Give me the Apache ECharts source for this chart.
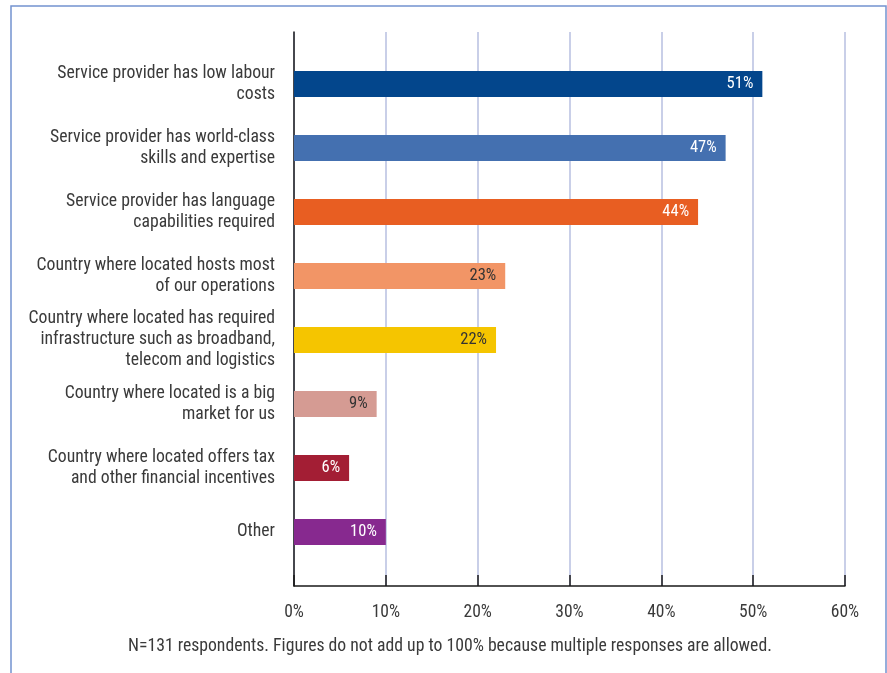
<!DOCTYPE html>
<html>
<head>
<meta charset="utf-8">
<script src="https://cdn.jsdelivr.net/npm/echarts@6/dist/echarts.min.js"></script>
<style>
  html, body { margin: 0; padding: 0; background: #fff; }
  #chart { width: 887px; height: 673px; }
</style>
</head>
<body>
<div id="chart"></div>
<script>
// Reasons for choosing a service provider location (% of respondents)
const categories = [
  'Service provider has low labour\ncosts',
  'Service provider has world-class\nskills and expertise',
  'Service provider has language\ncapabilities required',
  'Country where located hosts most\nof our operations',
  'Country where located has required\ninfrastructure such as broadband,\ntelecom and logistics',
  'Country where located is a big\nmarket for us',
  'Country where located offers tax\nand other financial incentives',
  'Other'
];
const values = [51, 47, 44, 23, 22, 9, 6, 10];
const barColors = ['#03468c', '#4470b0', '#e85e22', '#f29566', '#f5c500', '#d59b93', '#a31e34', '#87298f'];
const labelColors = ['#ffffff', '#ffffff', '#ffffff', '#333333', '#333333', '#333333', '#ffffff', '#ffffff'];
const xTicks = [0, 10, 20, 30, 40, 50, 60];
const footnote = 'N=131 respondents. Figures do not add up to 100% because multiple responses are allowed.';

const FONT = "'Liberation Sans Narrow', 'Roboto Condensed', 'Arial Narrow', Roboto, sans-serif";
const TEXT = '#3a3a3a';

const chart = echarts.init(document.getElementById('chart'), null, { renderer: 'canvas' });

chart.setOption({
  backgroundColor: '#ffffff',
  animation: false,
  textStyle: { fontFamily: FONT },
  graphic: [
    {
      type: 'polyline',
      shape: { points: [[11, 673], [11, 6], [886, 6], [886, 673]] },
      style: { stroke: '#7393cf', lineWidth: 1.5, fill: null },
      silent: true
    },
    {
      type: 'text',
      left: 128,
      top: 638,
      style: { text: footnote, fontFamily: FONT, fontSize: 17.7, fill: TEXT }
    }
  ],
  grid: [
    // frame grid: value scale, gridlines, ticks and axis lines
    { left: 294, right: 42, top: 32, bottom: 87, containLabel: false },
    // bar grid: category bands
    { left: 294, right: 42, top: 52, height: 512, containLabel: false }
  ],
  xAxis: [
    {
      gridIndex: 0,
      type: 'value',
      min: xTicks[0],
      max: xTicks[xTicks.length - 1],
      interval: 10,
      axisLine: { show: true, lineStyle: { color: '#1a1a1a', width: 1.5 } },
      axisTick: { show: true, inside: true, length: 11, lineStyle: { color: '#1a1a1a', width: 1.5 } },
      splitLine: { show: true, lineStyle: { color: '#c9cfe8', width: 2 } },
      axisLabel: { formatter: '{value}%', color: TEXT, fontSize: 17.5, fontFamily: FONT, margin: 18 }
    },
    {
      gridIndex: 1,
      type: 'value',
      min: xTicks[0],
      max: xTicks[xTicks.length - 1],
      show: false
    }
  ],
  yAxis: [
    {
      gridIndex: 0,
      type: 'category',
      data: [''],
      axisLine: { show: true, lineStyle: { color: '#1a1a1a', width: 1.5 } },
      axisTick: { show: false },
      axisLabel: { show: false },
      splitLine: { show: false }
    },
    {
      gridIndex: 1,
      type: 'category',
      inverse: true,
      data: categories.map((c, i) => i === 0
        ? { value: c, textStyle: { padding: [16, 0, 0, 0] } }
        : c),
      axisLine: { show: false },
      axisTick: { show: false },
      axisLabel: {
        color: TEXT,
        fontSize: 17.7,
        fontFamily: FONT,
        lineHeight: 21,
        align: 'right',
        margin: 19
      }
    }
  ],
  series: [
    {
      type: 'bar',
      xAxisIndex: 1,
      yAxisIndex: 1,
      barWidth: 26,
      data: values.map((v, i) => ({
        value: v,
        itemStyle: { color: barColors[i] },
        label: { color: labelColors[i] }
      })),
      label: {
        show: true,
        position: 'insideRight',
        distance: 9,
        formatter: '{c}%',
        fontSize: 16.5,
        fontFamily: FONT
      }
    }
  ]
});
</script>
</body>
</html>
